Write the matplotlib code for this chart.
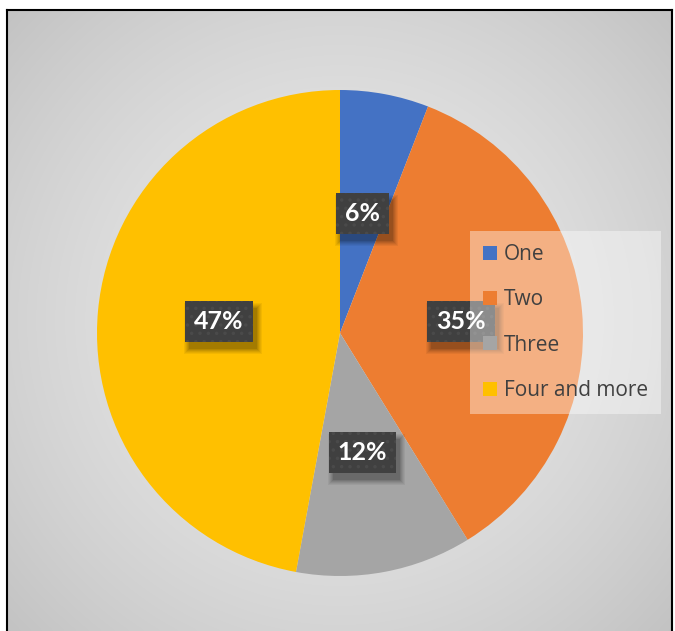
import numpy as np
import matplotlib
matplotlib.use("Agg")
import matplotlib.pyplot as plt
from matplotlib.lines import Line2D
from matplotlib.patches import Rectangle

labels = ["One", "Two", "Three", "Four and more"]
shares = [5.9, 35.3, 11.7, 47.1]
colors = ["#4472C4", "#ED7D31", "#A5A5A5", "#FFC000"]

W, H = 675, 631
fig = plt.figure(figsize=(W / 100, H / 100), dpi=100)
fig.patch.set_facecolor("white")

# framed chart area with radial gray gradient
fx0, fx1, ftop = 7 / W, 672 / W, (H - 10) / H
bg = fig.add_axes([fx0, 0, fx1 - fx0, ftop])
yy, xx = np.mgrid[-1:1:300j, -1:1:300j]
r = np.sqrt(xx ** 2 + (yy * 0.93) ** 2) / np.sqrt(2)
grad = 0.915 - 0.16 * r ** 1.6
bg.imshow(np.dstack([grad] * 3), extent=[0, 1, 0, 1], aspect="auto", interpolation="bicubic")
bg.set_xticks([])
bg.set_yticks([])
for side in ["top", "left", "right"]:
    bg.spines[side].set_linewidth(1.5)
    bg.spines[side].set_color("black")
bg.spines["bottom"].set_visible(False)

# pie
cx, cy, rad = 340, H - 333, 243
ax = fig.add_axes([(cx - rad) / W, (cy - rad) / H, 2 * rad / W, 2 * rad / H])
wedges, texts = ax.pie(shares, colors=colors, startangle=90, counterclock=False,
                       radius=1, labels=[f"{v:.0f}%" for v in shares], labeldistance=0.5,
                       wedgeprops=dict(linewidth=0))
ax.set_xlim(-1, 1)
ax.set_ylim(-1, 1)
ax.set_aspect("equal")
ax.axis("off")

plt.rcParams["hatch.linewidth"] = 1.3
for t in texts:
    t.set_ha("center")
    t.set_va("center")
    t.set_fontsize(18)
    t.set_fontweight("bold")
    t.set_family("Lato")
    t.set_color("white")
    t.set_zorder(5)
    t.set_bbox(dict(boxstyle="square,pad=0.36", facecolor="#404040", edgecolor="#4a4a4a",
                    linewidth=0, hatch=".."))

# soft shadows behind the label boxes
fig.canvas.draw()
for t in texts:
    bb = t.get_bbox_patch().get_window_extent()
    for k, a in zip(range(6, 0, -1), [0.05, 0.05, 0.06, 0.07, 0.08, 0.1]):
        ax.add_patch(Rectangle((bb.x0 + 5 - k, bb.y0 - 6 - k), bb.width + 2 * k - 2,
                               bb.height + 2 * k - 2, transform=None, facecolor="black",
                               alpha=a, linewidth=0, zorder=4))

handles = [Line2D([], [], marker="s", linestyle="none", markersize=10.5,
                  markerfacecolor=c, markeredgewidth=0) for c in colors]
leg = fig.legend(handles, labels, loc="upper left",
                 bbox_to_anchor=(470 / W, (H - 231) / H), frameon=True, fancybox=False,
                 prop=dict(family="Open Sans", size=15), labelcolor="#404040",
                 handlelength=0.7, handletextpad=0.3, labelspacing=1.17,
                 borderpad=0.62, borderaxespad=0)
leg.get_frame().set_facecolor("white")
leg.get_frame().set_alpha(0.4)
leg.get_frame().set_linewidth(0)

fig.savefig("out.png", dpi=100)
